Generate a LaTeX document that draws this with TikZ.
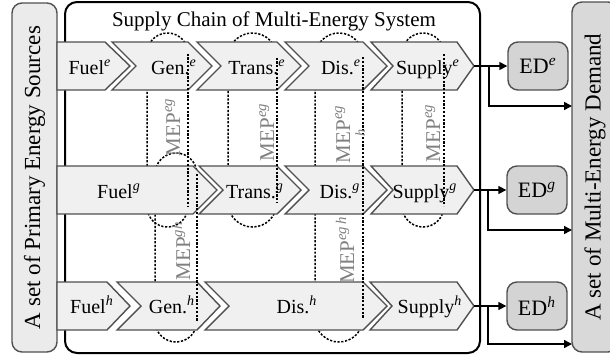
\documentclass[tikz,border=0pt]{standalone}
\usepackage{fontspec}
\setmainfont{Liberation Serif}
\usetikzlibrary{arrows.meta}

\definecolor{chevfill}{HTML}{F0F0F0}
\definecolor{chevline}{HTML}{505050}
\definecolor{srcfill}{HTML}{EBEBEB}
\definecolor{dmdfill}{HTML}{D9D9D9}
\definecolor{edfill}{HTML}{D4D4D4}
\definecolor{meptext}{HTML}{808080}

% stage arrow: left x, shoulder x, tip x, centre y, notch depth
\newcommand{\chev}[5]{%
  \filldraw[chev] (#1,#4-24) -- (#2,#4-24) -- (#3,#4) -- (#2,#4+24) -- (#1,#4+24) -- (#1+#5,#4) -- cycle;}
% dashed MEP capsule, drawn behind the stages: left x, right x, top y, bottom y
\newcommand{\mepback}[4]{%
  \pgfmathsetmacro\mepr{(#2-#1)/2}%
  \pgfmathsetmacro\meprr{(#2-#1)/4}%
  \draw[mep] (#2,#3+\mepr) arc[start angle=0,end angle=180,radius=\meprr pt]
     -- (#1,#4-\mepr) arc[start angle=180,end angle=360,radius=\meprr pt];}
% right-hand side of a capsule, drawn over the stages
\newcommand{\mepfront}[4]{%
  \pgfmathsetmacro\mepr{(#2-#1)/2}%
  \draw[mep] (#2,#3+\mepr) -- (#2,#4-\mepr);}
\newcommand{\sx}[1]{\textsuperscript{\itshape #1}}

\begin{document}
\begin{tikzpicture}[x=0.5pt,y=-0.5pt,
  chev/.style={fill=chevfill,draw=chevline,line width=0.7pt,line join=miter},
  mep/.style={draw=black,line width=0.75pt,dash pattern=on 1.1pt off 0.8pt},
  lbl/.style={anchor=base,inner sep=0pt,font=\fontsize{10}{12}\selectfont},
  meplbl/.style={anchor=base,rotate=90,inner sep=0pt,text=meptext,font=\fontsize{10.5}{12}\selectfont},
  edbox/.style={draw=chevline,fill=edfill,line width=0.7pt,rounded corners=5pt,
    minimum width=30pt,minimum height=24pt,inner sep=0pt,font=\fontsize{11}{13}\selectfont},
  bar/.style={draw=chevline,line width=0.7pt,rounded corners=5pt,rotate=90,inner sep=0pt,
    font=\fontsize{11.5}{13}\selectfont},
  conn/.style={draw=black,line width=0.75pt,-{Triangle[length=4pt,width=4pt]}}]
\useasboundingbox (0,0) rectangle (610,360);
\clip (0,0) rectangle (610,360);

% side bars
\node[bar,fill=srcfill,minimum width=174.5pt,minimum height=22.5pt] (src) at (34.5,177.5)
  {A set of Primary Energy Sources};
\node[bar,fill=dmdfill,minimum width=175pt,minimum height=23pt] (dmd) at (595,177)
  {A set of Multi-Energy Demand};

% supply chain frame
\node[draw=black,line width=1pt,rounded corners=6pt,fill=white,minimum width=207.5pt,
  minimum height=175.5pt,inner sep=0pt] (chain) at (272.5,177.5) {};
\node[anchor=base,inner sep=0pt,font=\fontsize{10.5}{12}\selectfont] (title) at (274,26)
  {Supply Chain of Multi-Energy System};

% MEP capsules (back part)
\mepback{147}{188}{33}{227}
\mepback{228}{277}{33}{227}
\mepback{315}{363}{33}{342}
\mepback{402}{444}{33}{227}
\mepback{155}{197}{153}{342}

% electricity chain
\chev{57}{105}{130}{66}{0}
\chev{112}{188}{212}{66}{24}
\chev{197}{277}{301}{66}{24}
\chev{285}{363}{387}{66}{24}
\chev{371}{457}{474}{66}{22}
% gas chain
\chev{57}{193}{217}{190}{0}
\chev{199}{277}{301}{190}{24}
\chev{285}{363}{387}{190}{24}
\chev{371}{457}{474}{190}{22}
% heat chain
\chev{57}{107}{130}{306}{0}
\chev{117}{197}{220}{306}{24}
\chev{205}{363}{387}{306}{24}
\chev{370}{457}{474}{306}{22}

% MEP capsules (front part)
\mepfront{147}{188}{33}{227}
\mepfront{228}{277}{33}{227}
\mepfront{315}{363}{33}{342}
\mepfront{402}{444}{33}{227}
\mepfront{155}{197}{153}{342}

% stage labels
\node[lbl] (fe) at (90,74) {Fuel\sx{e}};
\node[lbl] (ge) at (174,74) {Gen.\sx{e}};
\node[lbl] (te) at (257,74) {Trans.\sx{e}};
\node[lbl] (de) at (341,74) {Dis.\sx{e}};
\node[lbl] (se) at (428,74) {Supply\sx{e}};
\node[lbl] (fg) at (119,198) {Fuel\sx{g}};
\node[lbl] (tg) at (255,198) {Trans.\sx{g}};
\node[lbl] (dg) at (340,198) {Dis.\sx{g}};
\node[lbl] (sg) at (425,198) {Supply\sx{g}};
\node[lbl] (fh) at (92,313) {Fuel\sx{h}};
\node[lbl] (gh) at (172,313) {Gen.\sx{h}};
\node[lbl] (dh) at (297,313) {Dis.\sx{h}};
\node[lbl] (sh) at (430,313) {Supply\sx{h}};

% MEP labels
\node[meplbl] (m1) at (180,127) {MEP\sx{eg}};
\node[meplbl] (m2) at (274,132) {MEP\sx{eg}};
\node[meplbl] (m3) at (350,134) {MEP\sx{eg}};
\node[meplbl,font=\fontsize{7}{8}\selectfont\itshape] (m3h) at (365,133) {h};
\node[meplbl] (m4) at (440,133) {MEP\sx{eg}};
\node[meplbl] (mgh) at (190,251) {MEP\sx{gh}};
\node[meplbl] (megh) at (354,250) {MEP\sx{eg\,h}};

% energy demand boxes
\node[edbox] (ede) at (538,66) {ED\sx{e}};
\node[edbox] (edg) at (537,190) {ED\sx{g}};
\node[edbox] (edh) at (537,306) {ED\sx{h}};

% outlets
\coordinate (tipe) at (474,66);  \coordinate (bre) at (489,66);  \coordinate (ine) at (572,106);
\coordinate (tipg) at (474,190); \coordinate (brg) at (488,190); \coordinate (ing) at (572,230);
\coordinate (tiph) at (474,306); \coordinate (brh) at (488,306); \coordinate (inh) at (572,344);
\draw[conn] (tipe) -- (ede);
\draw[conn] (bre) |- (ine);
\draw[conn] (tipg) -- (edg);
\draw[conn] (brg) |- (ing);
\draw[conn] (tiph) -- (edh);
\draw[conn] (brh) |- (inh);
\end{tikzpicture}
\end{document}
